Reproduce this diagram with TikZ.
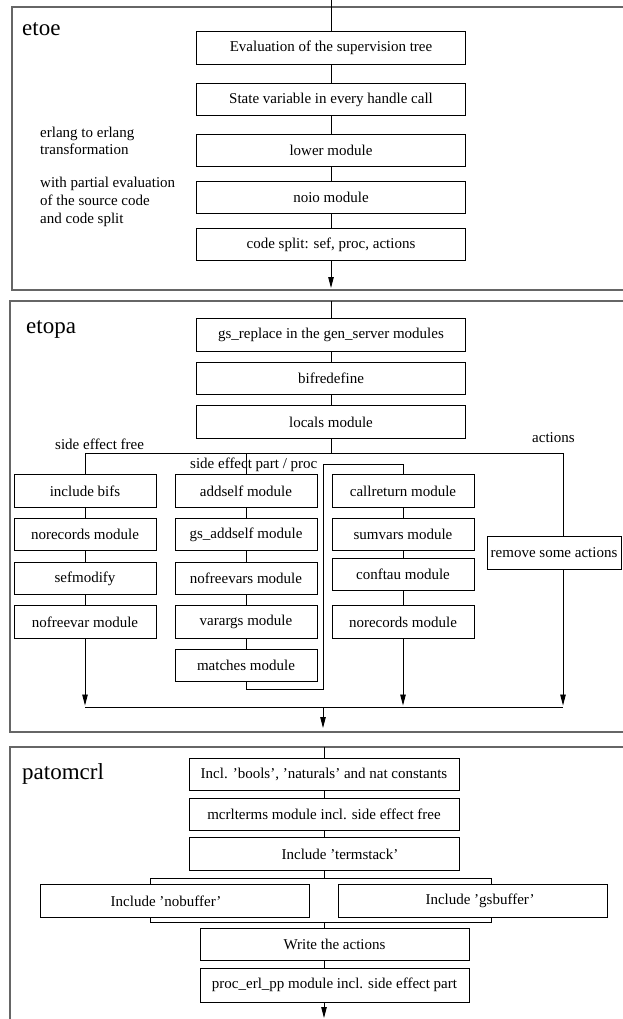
\documentclass[tikz,border=0pt]{standalone}
\usepackage{fontspec}
\setmainfont{Liberation Serif}
\usetikzlibrary{arrows.meta}
\begin{document}
\begin{tikzpicture}[x=1pt,y=-1pt,
  box/.style={draw, line width=0.9pt, inner sep=0pt, minimum height=32.5pt, font=\fontsize{15}{18}\selectfont},
  wide/.style={box, minimum width=269pt},
  narrow/.style={box, minimum width=142pt},
  frame/.style={draw=black!60, line width=1.4pt},
  conn/.style={line width=0.9pt},
  arr/.style={conn, -{Triangle[length=11pt,width=5.5pt]}},
  title/.style={anchor=base west, inner sep=0pt, font=\fontsize{23}{27}\selectfont},
  lbl/.style={anchor=base west, inner sep=0pt, font=\fontsize{15}{18}\selectfont},
]
\useasboundingbox (0,0) rectangle (622,1019);

% ---------- frames ----------
\draw[frame] (12,7) rectangle (660,290);
\draw[frame] (10,301) rectangle (660,732);
\draw[frame] (10,747) rectangle (660,1060);

% ---------- etoe ----------
\node[title] (tetoe) at (22,36) {etoe};
\coordinate (etop) at (331,0);
\node[wide] (e1) at (331,48) {Evaluation of the supervision tree};
\node[wide] (e2) at (331,99.5) {State variable in every handle call};
\node[wide] (e3) at (331,150.5) {lower module};
\node[wide] (e4) at (331,197.5) {noio module};
\node[wide] (e5) at (331,244.5) {code split: sef, proc, actions};
\coordinate (eend) at (331,288);
\draw[conn] (etop) -- (e1);
\draw[conn] (e1) -- (e2);
\draw[conn] (e2) -- (e3);
\draw[conn] (e3) -- (e4);
\draw[conn] (e4) -- (e5);
\draw[arr] (e5) -- (eend);

\node[lbl] (l1) at (40,138) {erlang to erlang};
\node[lbl] (l2) at (40,155) {transformation};
\node[lbl] (l3) at (40,188) {with partial evaluation};
\node[lbl] (l4) at (40,205.5) {of the source code};
\node[lbl] (l5) at (40,223) {and code split};

% ---------- etopa ----------
\node[title] (tetopa) at (26,333) {etopa};
\coordinate (ptop) at (331,301);
\node[wide] (p1) at (331,335) {gs\_replace in the gen\_server modules};
\node[wide] (p2) at (331,378.5) {bifredefine};
\node[wide] (p3) at (331,422) {locals module};
\draw[conn] (ptop) -- (p1);
\draw[conn] (p1) -- (p2);
\draw[conn] (p2) -- (p3);

\coordinate (bus) at (331,453);
\coordinate (busL) at (85,453);
\coordinate (busM) at (246,453);
\coordinate (busR) at (563,453);

\node[narrow] (a1) at (85,491) {include bifs};
\node[narrow] (a2) at (85,534.5) {norecords module};
\node[narrow] (a3) at (85,578.5) {sefmodify};
\node[narrow] (a4) at (85,622) {nofreevar module};

\node[narrow] (b1) at (246,491) {addself module};
\node[narrow] (b2) at (246,534.5) {gs\_addself module};
\node[narrow] (b3) at (246,578.5) {nofreevars module};
\node[narrow] (b4) at (246,622) {varargs module};
\node[narrow] (b5) at (246,665.5) {matches module};

\node[narrow] (c1) at (403,491) {callreturn module};
\node[narrow] (c2) at (403,534.5) {sumvars module};
\node[narrow] (c3) at (403,574.5) {conftau module};
\node[narrow] (c4) at (403,622) {norecords module};

\node[box, minimum width=134pt] (rm) at (554,553) {remove some actions};

\node[lbl] (sef) at (55,449.5) {side effect free};
\node[lbl] (sep) at (190,468.5) {side effect part / proc};
\node[lbl] (act) at (532,442.5) {actions};

\draw[conn] (p3) -- (bus);
\draw[conn] (busL) -- (busR);
\draw[conn] (busL) -- (a1);
\draw[conn] (busM) -- (b1);
\draw[conn] (busR) -- (busR |- rm.north);

\draw[conn] (a1) -- (a2);
\draw[conn] (a2) -- (a3);
\draw[conn] (a3) -- (a4);
\draw[conn] (b1) -- (b2);
\draw[conn] (b2) -- (b3);
\draw[conn] (b3) -- (b4);
\draw[conn] (b4) -- (b5);
\draw[conn] (c1) -- (c2);
\draw[conn] (c2) -- (c3);
\draw[conn] (c3) -- (c4);

\coordinate (r1) at (323,689);
\coordinate (r2) at (323,464);
\draw[conn] (b5.south) |- (r1) -- (r2) -| (c1.north);

\coordinate (jL) at (85,707);
\coordinate (jC) at (403,707);
\coordinate (jR) at (563,707);
\coordinate (jM) at (323,707);
\coordinate (pend) at (323,728);
\draw[arr, shorten >=1.5pt] (a4) -- (jL);
\draw[arr, shorten >=1.5pt] (c4) -- (jC);
\draw[arr, shorten >=1.5pt] (busR |- rm.south) -- (jR);
\draw[conn] (jL) -- (jR);
\draw[arr] (jM) -- (pend);

% ---------- patomcrl ----------
\node[title] (tpat) at (22,779) {patomcrl};
\coordinate (qtop) at (324,747);
\node[wide, minimum width=270pt] (q1) at (324,774.5) {Incl. 'bools', 'naturals' and nat constants};
\node[wide, minimum width=270pt] (q2) at (324,814.5) {mcrlterms module incl. side effect free};
\node[wide, minimum width=270pt] (q3) at (324,854) {\hspace*{32pt}Include 'termstack'};
\coordinate (s) at (324,878);
\coordinate (sL) at (150,878);
\coordinate (sR) at (491,878);
\node[wide] (nob) at (175,901) {Include 'nobuffer'\hspace*{18pt}};
\node[wide] (gsb) at (472.5,901) {\hspace*{15pt}Include 'gsbuffer'};
\coordinate (m) at (324,922);
\coordinate (mR) at (491,922);
\node[wide] (w) at (334.5,944.5) {Write the actions};
\node[wide, minimum height=34pt] (pp) at (334.5,985) {proc\_erl\_pp module incl. side effect part};
\coordinate (qend) at (324,1018);

\draw[conn] (qtop) -- (q1);
\draw[conn] (q1) -- (q2);
\draw[conn] (q2) -- (q3);
\draw[conn] (q3) -- (s);
\draw[conn] (sL |- nob.north) |- (sR) -- (sR |- gsb.north);
\draw[conn] (sL |- nob.south) |- (mR) -- (mR |- gsb.south);
\draw[conn] (m) -- (m |- w.north);
\draw[conn] (m |- w.south) -- (m |- pp.north);
\draw[arr] (m |- pp.south) -- (qend);
\end{tikzpicture}
\end{document}
